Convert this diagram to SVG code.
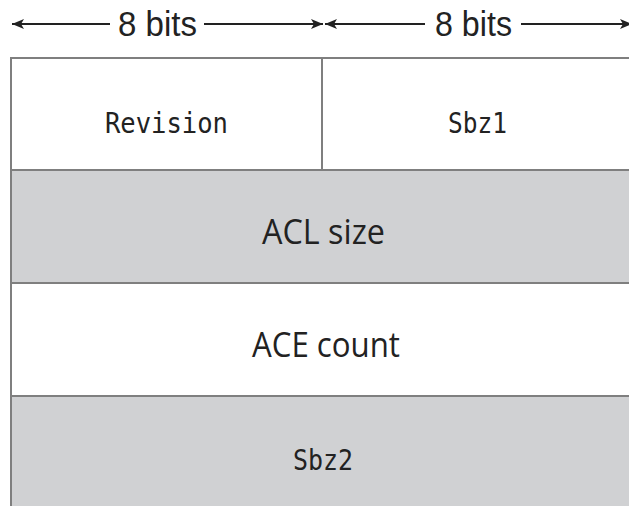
<svg xmlns="http://www.w3.org/2000/svg" width="629" height="506" viewBox="0 0 629 506">
<style>
.cell{stroke:#7f7f7f;stroke-width:2}
.w{fill:#ffffff}
.g{fill:#d0d1d3}
.mono{font-family:"DejaVu Sans Mono","Liberation Mono",monospace;font-size:29px;fill:#222;text-anchor:middle}
.sans{font-family:"Open Sans","Liberation Sans",sans-serif;font-size:34px;fill:#222;text-anchor:middle}
.hdr{font-family:"Liberation Sans","Open Sans",sans-serif;font-size:35px;fill:#222;text-anchor:middle}
.arr{stroke:#222;stroke-width:2;fill:none}
</style>
<defs>
<marker id="ah" viewBox="0 0 12 10" refX="12" refY="5" markerWidth="12" markerHeight="10" markerUnits="userSpaceOnUse" orient="auto-start-reverse">
<path d="M0,0 L12,5 L0,10 L3,5 Z" fill="#222"/>
</marker>
</defs>
<rect width="629" height="506" fill="#ffffff"/>
<g id="connectors">
<line class="arr" x1="12" y1="24" x2="110" y2="24" marker-start="url(#ah)"/>
<line class="arr" x1="204" y1="24" x2="323" y2="24" marker-end="url(#ah)"/>
<line class="arr" x1="325" y1="24" x2="425" y2="24" marker-start="url(#ah)"/>
<line class="arr" x1="521" y1="24" x2="632" y2="24" marker-end="url(#ah)"/>
<text class="hdr" x="157.5" y="36" textLength="79" lengthAdjust="spacingAndGlyphs">8 bits</text>
<text class="hdr" x="473.5" y="36" textLength="77" lengthAdjust="spacingAndGlyphs">8 bits</text>
</g>
<g id="revision">
<rect class="cell w" x="11" y="58" width="311" height="112"/>
<text class="mono" x="166.5" y="133" textLength="123" lengthAdjust="spacingAndGlyphs">Revision</text>
</g>
<g id="sbz1">
<rect class="cell w" x="322" y="58" width="326" height="112"/>
<text class="mono" x="477.5" y="133" textLength="59" lengthAdjust="spacingAndGlyphs">Sbz1</text>
</g>
<g id="acl-size">
<rect class="cell g" x="11" y="170" width="637" height="113"/>
<text class="sans" x="323.5" y="244" textLength="123" lengthAdjust="spacingAndGlyphs">ACL size</text>
</g>
<g id="ace-count">
<rect class="cell w" x="11" y="283" width="637" height="113"/>
<text class="sans" x="326" y="357" textLength="148" lengthAdjust="spacingAndGlyphs">ACE count</text>
</g>
<g id="sbz2">
<rect class="cell g" x="11" y="396" width="637" height="120"/>
<text class="mono" x="323" y="470" textLength="60" lengthAdjust="spacingAndGlyphs">Sbz2</text>
</g>
</svg>
